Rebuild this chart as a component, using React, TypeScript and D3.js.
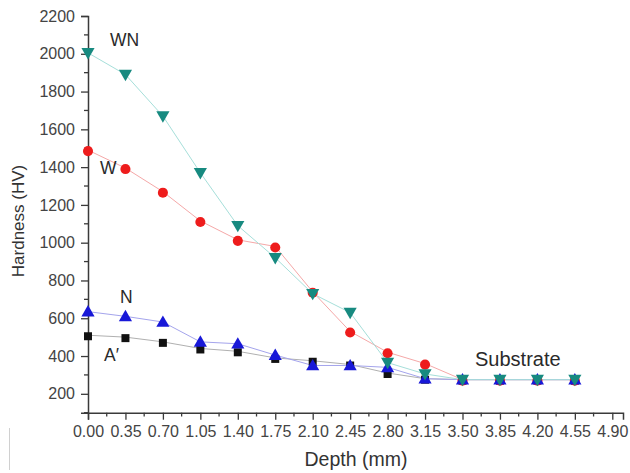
import React, { useEffect, useRef } from 'react';
import * as d3 from 'd3';

// depth positions (mm)
const depths = [0, 0.35, 0.7, 1.05, 1.4, 1.75, 2.1, 2.45, 2.8, 3.15, 3.5, 3.85, 4.2, 4.55];

// hardness (HV) per sample
const wnValues = [2005, 1890, 1670, 1370, 1090, 920, 730, 630, 365, 305, 275, 275, 275, 275];
const wValues = [1490, 1395, 1270, 1115, 1015, 980, 740, 530, 420, 360, 275, 275, 275, 275];
const nValues = [635, 610, 580, 475, 465, 405, 350, 350, 340, 280, 275, 275, 275, 275];
const aValues = [510, 500, 475, 440, 425, 390, 375, 355, 310, 280, 275, 275, 275, 275];

const xTicks = [0, 0.35, 0.7, 1.05, 1.4, 1.75, 2.1, 2.45, 2.8, 3.15, 3.5, 3.85, 4.2, 4.55, 4.9];
const yTicks = [200, 400, 600, 800, 1000, 1200, 1400, 1600, 1800, 2000, 2200];

const App = () => {
  const svgRef = useRef(null);

  useEffect(() => {
    const svg = d3.select(svgRef.current);
    svg.selectAll('*').remove();

    const x = d3.scaleLinear().domain([0, 5]).range([88, 623]);
    const y = d3.scaleLinear().domain([100, 2200]).range([412.7, 16]);
    const font = 'Liberation Sans, Arial, sans-serif';
    const axisColor = '#3a3a3a';

    // stray scan line at bottom left
    svg.append('line').attr('x1', 9.5).attr('x2', 9.5).attr('y1', 428).attr('y2', 470)
      .attr('stroke', '#d0d0d0').attr('stroke-width', 1);

    // minor ticks
    const minorX = xTicks.map((t) => t + 0.175).filter((v) => v < 5);
    svg.append('g').selectAll('line').data(minorX).enter().append('line')
      .attr('x1', (d) => x(d)).attr('x2', (d) => x(d)).attr('y1', 412.7).attr('y2', 416.5)
      .attr('stroke', axisColor).attr('stroke-width', 1.3);
    const minorY = d3.range(100, 2200, 200);
    svg.append('g').selectAll('line').data(minorY).enter().append('line')
      .attr('x1', 84).attr('x2', 88).attr('y1', (d) => y(d)).attr('y2', (d) => y(d))
      .attr('stroke', axisColor).attr('stroke-width', 1.3);

    // x axis
    const gx = svg.append('g').attr('transform', 'translate(0,412.7)')
      .call(d3.axisBottom(x).tickValues(xTicks).tickFormat(d3.format('.2f')).tickSizeOuter(0).tickSize(7).tickPadding(6));
    gx.select('.domain').attr('stroke', axisColor).attr('stroke-width', 1.5);
    gx.selectAll('.tick line').attr('stroke', axisColor).attr('stroke-width', 1.3);
    gx.selectAll('text').attr('font-family', font).attr('font-size', 16).attr('fill', '#444');

    // y axis
    const gy = svg.append('g').attr('transform', 'translate(88,0)')
      .call(d3.axisLeft(y).tickValues(yTicks).tickFormat(d3.format('d')).tickSizeOuter(0).tickSize(7).tickPadding(6));
    gy.select('.domain').attr('stroke', axisColor).attr('stroke-width', 1.5);
    gy.selectAll('.tick line').attr('stroke', axisColor).attr('stroke-width', 1.3);
    gy.selectAll('text').attr('font-family', font).attr('font-size', 16).attr('fill', '#444');

    // axis titles
    svg.append('text').attr('x', 356).attr('y', 466).attr('text-anchor', 'middle')
      .attr('font-family', font).attr('font-size', 19.5).attr('fill', '#333').text('Depth (mm)');
    svg.append('text').attr('transform', 'translate(24,221) rotate(-90)').attr('text-anchor', 'middle')
      .attr('font-family', font).attr('font-size', 17).attr('fill', '#333').text('Hardness (HV)');

    const series = [
      { name: 'A', values: aValues, line: '#b0b0b0', fill: '#111111', shape: d3.symbolSquare, size: 64, rot: 0 },
      { name: 'W', values: wValues, line: '#f5a8a8', fill: '#ee1c1c', shape: d3.symbolCircle, size: 80, rot: 0 },
      { name: 'N', values: nValues, line: '#a4a4ec', fill: '#1818d8', shape: d3.symbolTriangle, size: 75, rot: 0 },
      { name: 'WN', values: wnValues, line: '#a6dfda', fill: '#178a80', shape: d3.symbolTriangle, size: 75, rot: 180 },
    ];

    const line = d3.line().x((d) => x(d[0])).y((d) => y(d[1]));

    series.forEach((s) => {
      const pts = depths.map((d, i) => [d, s.values[i]]);
      svg.append('path').attr('d', line(pts)).attr('fill', 'none')
        .attr('stroke', s.line).attr('stroke-width', 1);
    });

    series.forEach((s) => {
      const pts = depths.map((d, i) => [d, s.values[i]]);
      svg.append('g').selectAll('path').data(pts).enter().append('path')
        .attr('d', d3.symbol().type(s.shape).size(s.size))
        .attr('transform', (d) => `translate(${x(d[0])},${y(d[1]) + (s.rot ? -1 : 1)}) rotate(${s.rot})`)
        .attr('fill', s.fill);
    });

    // annotations
    const labels = [
      { t: 'WN', x: 110, y: 46, s: 17.5 },
      { t: 'W', x: 100, y: 174, s: 17.5 },
      { t: 'N', x: 120, y: 303, s: 17.5 },
      { t: 'A\u2032', x: 104, y: 361, s: 17.5 },
      { t: 'Substrate', x: 475, y: 366, s: 20 },
    ];
    svg.append('g').selectAll('text').data(labels).enter().append('text')
      .attr('x', (d) => d.x).attr('y', (d) => d.y)
      .attr('font-family', font).attr('font-size', (d) => d.s).attr('fill', '#2a2a2a')
      .text((d) => d.t);
  }, []);

  return (
    <svg ref={svgRef} width={630} height={473}
      style={{ position: 'absolute', left: 0, top: 0, background: '#fff' }} />
  );
};

export default App;
